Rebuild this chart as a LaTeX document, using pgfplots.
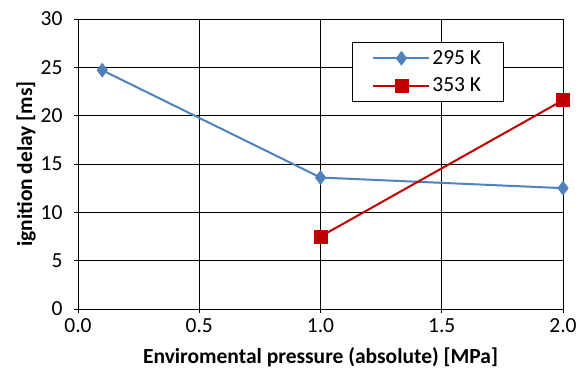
\documentclass[border=0pt]{standalone}
\usepackage{fontspec}
\setmainfont{Carlito}
\usepackage{pgfplots}
\pgfplotsset{compat=1.18}
\definecolor{xlblue}{HTML}{4F81BD}
\definecolor{xlred}{HTML}{C00000}
\newcommand{\myfont}{\fontsize{21.5bp}{24bp}\selectfont}
\begin{document}
\begin{tikzpicture}[font=\myfont]
\begin{axis}[
  scale only axis,
  width=485bp, height=290bp,
  xmin=0, xmax=2, ymin=0, ymax=30,
  xtick={0,0.5,1,1.5,2},
  ytick={0,5,10,15,20,25,30},
  xticklabel style={yshift=-2bp, /pgf/number format/fixed, /pgf/number format/fixed zerofill, /pgf/number format/precision=1},
  /pgf/number format/assume math mode=true,
  tick label style={font=\myfont},
  yticklabel style={xshift=-8bp},
  label style={font=\myfont},
  tick align=center,
  major tick length=8bp,
  tick style={black, line width=0.8bp},
  grid=major,
  major grid style={black, line width=0.7bp},
  axis line style={black, line width=0.8bp},
  axis x line*=bottom, axis y line*=left,
  x axis line style={-}, y axis line style={-},
  xlabel={\textbf{Enviromental pressure (absolute) [MPa]}},
  ylabel={\textbf{ignition delay [ms]}},
  xlabel style={yshift=-8bp},
  ylabel style={yshift=-2bp},
  legend style={at={(0.565,0.92)}, anchor=north west, draw=black, line width=0.8bp,
    inner xsep=20bp, inner ysep=6bp, row sep=8bp, font=\myfont},
  legend cell align=left,
  legend image code/.code={
    \draw[#1, mark=none] (0bp,0bp) -- (56bp,0bp);
    \draw[#1, only marks] plot coordinates {(28bp,0bp)};
  },
]
\coordinate (bl) at (rel axis cs:0,0);
\coordinate (tr) at (rel axis cs:1,1);
\addplot[color=xlblue, line width=2bp, mark=diamond*, mark size=7bp, mark options={fill=xlblue, line width=0.5bp}]
  coordinates {(0.1,24.7) (1.0,13.6) (2.0,12.5)};
\addlegendentry{295 K}
\addplot[color=xlred, line width=2bp, mark=square*, mark size=6.5bp, mark options={fill=xlred, line width=0.5bp}]
  coordinates {(1.0,7.5) (2.0,21.6)};
\addlegendentry{353 K}
\end{axis}
\pgfresetboundingbox
\path ([shift={(-78bp,-63bp)}]bl) rectangle ([shift={(23bp,19bp)}]tr);
\end{tikzpicture}
\end{document}
